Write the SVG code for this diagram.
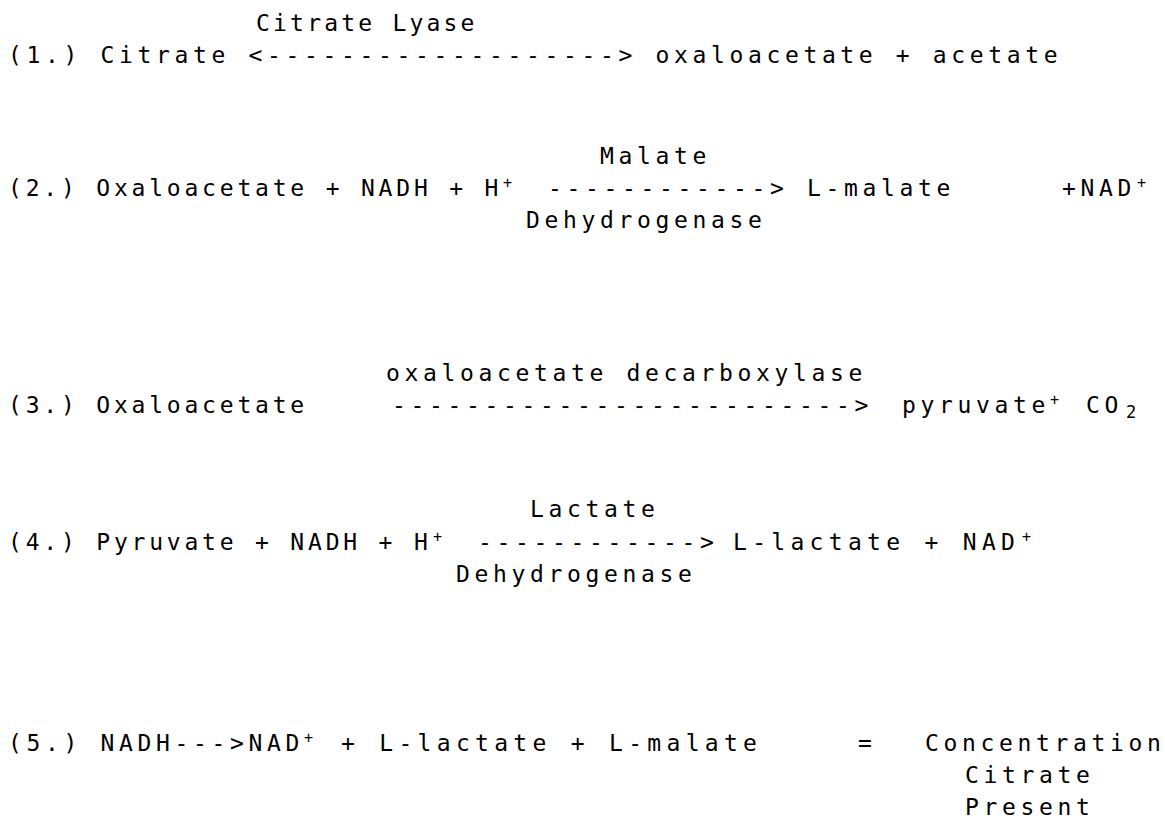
<svg xmlns="http://www.w3.org/2000/svg" width="1165" height="834" viewBox="0 0 1165 834">
<style>
text{font-family:"DejaVu Sans Mono","Liberation Mono",monospace;font-size:23px;fill:#000;letter-spacing:4.65px;white-space:pre}
.n{letter-spacing:3.8px}
.w{letter-spacing:5.3px}
.t{letter-spacing:3.2px}
.sup{font-size:15px;letter-spacing:0}
.sub{font-size:17px;letter-spacing:0}
</style>
<rect width="1165" height="834" fill="#fff"/>
<g id="r1">
<text class="t" x="256" y="31" xml:space="preserve">Citrate Lyase</text>
<text x="8" y="63" xml:space="preserve">(1.) Citrate &lt;-------------------&gt; oxaloacetate + acetate</text>
</g>
<g id="r2">
<text x="600" y="164" xml:space="preserve">Malate</text>
<text class="n" x="8" y="196" xml:space="preserve">(2.) Oxaloacetate + NADH + H</text>
<text class="sup" x="503" y="188">+</text>
<text x="548" y="196" xml:space="preserve">------------&gt; L-malate</text>
<text x="1062" y="196" xml:space="preserve">+NAD</text>
<text class="sup" x="1137" y="188">+</text>
<text x="526" y="228" xml:space="preserve">Dehydrogenase</text>
</g>
<g id="r3">
<text x="386" y="381" xml:space="preserve">oxaloacetate decarboxylase</text>
<text class="n" x="8" y="413" xml:space="preserve">(3.) Oxaloacetate</text>
<text x="392" y="413" xml:space="preserve">-------------------------&gt;</text>
<text x="902" y="413" xml:space="preserve">pyruvate</text>
<text class="sup" x="1050" y="405">+</text>
<text x="1086" y="413" xml:space="preserve">CO</text>
<text class="sub" x="1126" y="418">2</text>
</g>
<g id="r4">
<text x="530" y="517" xml:space="preserve">Lactate</text>
<text class="n" x="8" y="550" xml:space="preserve">(4.) Pyruvate + NADH + H</text>
<text class="sup" x="433" y="542">+</text>
<text x="478" y="550" xml:space="preserve">------------&gt;</text>
<text class="w" x="733" y="550" xml:space="preserve">L-lactate + NAD</text>
<text class="sup" x="1022" y="542">+</text>
<text x="456" y="582" xml:space="preserve">Dehydrogenase</text>
</g>
<g id="r5">
<text x="8" y="751" xml:space="preserve">(5.) NADH---&gt;NAD</text>
<text class="sup" x="304" y="743">+</text>
<text class="w" x="341" y="751" xml:space="preserve">+ L-lactate + L-malate</text>
<text x="858" y="751" xml:space="preserve">=</text>
<text x="925" y="751" xml:space="preserve">Concentration</text>
<text x="965" y="783" xml:space="preserve">Citrate</text>
<text x="965" y="815" xml:space="preserve">Present</text>
</g>
</svg>
